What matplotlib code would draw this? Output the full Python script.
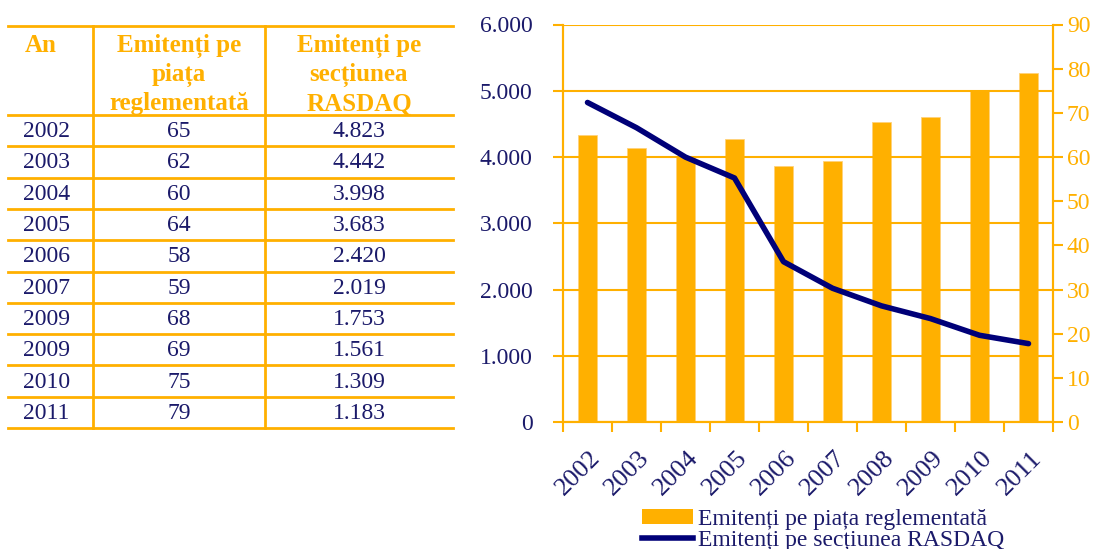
import numpy as np
import matplotlib.pyplot as plt
from matplotlib.lines import Line2D
from matplotlib.patches import Patch
from matplotlib.ticker import FuncFormatter
import matplotlib.transforms as mtransforms

plt.rcParams['font.family'] = ['Liberation Serif', 'DejaVu Serif']

# table data (years exactly as printed in the source table)
ani_tabel = ['2002', '2003', '2004', '2005', '2006', '2007', '2009', '2009', '2010', '2011']
# chart categories
ani_grafic = ['2002', '2003', '2004', '2005', '2006', '2007', '2008', '2009', '2010', '2011']
emitenti_piata = [65, 62, 60, 64, 58, 59, 68, 69, 75, 79]
emitenti_rasdaq = [4823, 4442, 3998, 3683, 2420, 2019, 1753, 1561, 1309, 1183]

antet = ['An', 'Emitenți pe\npiața\nreglementată', 'Emitenți pe\nsecțiunea\nRASDAQ']
legenda = ['Emitenți pe piața reglementată', 'Emitenți pe secțiunea RASDAQ']

ORANGE = '#FFB000'
NAVY = '#000078'
TEXT = '#1b1a6a'

W, H = 1105, 549
fig = plt.figure(figsize=(W / 100, H / 100), dpi=100)


def fx(px):
    return px / W


def fy(py):
    return 1 - py / H


def fmt_ro(v):
    # Romanian thousands separator
    return f"{int(v):,}".replace(',', '.')


# --- table on the left ---
tab_x0, tab_x1 = 8, 453
col_sep = [93, 265]
tab_top, head_bot, row_h = 26, 115, 31.3
n_rows = len(ani_tabel)
tab_bot = head_bot + n_rows * row_h


def hline(y):
    fig.add_artist(Line2D([fx(tab_x0), fx(tab_x1)], [fy(y), fy(y)],
                          color=ORANGE, lw=2))


hline(tab_top)
hline(head_bot)
for i in range(n_rows):
    hline(head_bot + (i + 1) * row_h)
for xs in col_sep:
    fig.add_artist(Line2D([fx(xs), fx(xs)], [fy(tab_top), fy(tab_bot)],
                          color=ORANGE, lw=2))

col_centers = [(col_sep[0] + col_sep[1]) / 2, (col_sep[1] + tab_x1) / 2]
fig.text(fx(25), fy(34), antet[0], color=ORANGE, fontsize=18,
         fontweight='bold', ha='left', va='top')
for c, txt in zip(col_centers, antet[1:]):
    fig.text(fx(c), fy(34), txt, color=ORANGE, fontsize=18, fontweight='bold',
             ha='center', va='top', multialignment='center', linespacing=1.28)

for i in range(n_rows):
    yc = head_bot + (i + 0.5) * row_h + 1
    fig.text(fx(23), fy(yc), ani_tabel[i], color=TEXT, fontsize=17,
             ha='left', va='center')
    fig.text(fx(col_centers[0]), fy(yc), str(emitenti_piata[i]), color=TEXT,
             fontsize=17, ha='center', va='center')
    fig.text(fx(col_centers[1]), fy(yc), fmt_ro(emitenti_rasdaq[i]), color=TEXT,
             fontsize=17, ha='center', va='center')

# --- combo chart on the right ---
px0, px1, py_top, py_bot = 563, 1053, 24.5, 422
ax = fig.add_axes([fx(px0), fy(py_bot), (px1 - px0) / W, (py_bot - py_top) / H])
ax2 = ax.twinx()
ax.set_zorder(ax2.get_zorder() + 1)
ax.patch.set_visible(False)

x = np.arange(len(ani_grafic))
ax2.bar(x, emitenti_piata, width=0.4, color=ORANGE, edgecolor='#FFD27A',
        linewidth=0.6, zorder=3)
ax2.set_ylim(0, 90)
ax2.set_yticks(np.arange(0, 91, 10))
ax2.tick_params(axis='y', colors=ORANGE, labelcolor=ORANGE, labelsize=17,
                length=7, width=1.5, pad=3)

ax.plot(x, emitenti_rasdaq, color=NAVY, lw=4, solid_capstyle='round',
        solid_joinstyle='round')
ax.set_ylim(0, 6000)
ax.set_yticks(np.arange(0, 6001, 1000))
ax.yaxis.set_major_formatter(FuncFormatter(lambda v, p: fmt_ro(v)))
ax.tick_params(axis='y', colors=ORANGE, labelcolor=TEXT, labelsize=17,
               length=7, width=1.5, pad=15)
ax.grid(axis='y', color=ORANGE, lw=1.5)
ax.set_axisbelow(True)

ax.set_xlim(-0.5, len(ani_grafic) - 0.5)
ax.set_xticks(np.arange(-0.5, len(ani_grafic), 1))
ax.set_xticklabels([])
ax.set_xticks(x, minor=True)
ax.set_xticklabels(ani_grafic, minor=True, rotation=45, ha='right', va='top',
                   rotation_mode='anchor', color=TEXT, fontsize=19)
ax.tick_params(axis='x', which='major', colors=ORANGE, length=7, width=1.5)
ax.tick_params(axis='x', which='minor', length=0, pad=18)
shift = mtransforms.ScaledTranslation(2 / 100, 0, fig.dpi_scale_trans)
for lbl in ax.get_xticklabels(minor=True):
    lbl.set_transform(lbl.get_transform() + shift)

for a in (ax, ax2):
    a.spines['top'].set_visible(False)
    for s in ('left', 'right', 'bottom'):
        a.spines[s].set_color(ORANGE)
        a.spines[s].set_linewidth(1.5)

fig.legend(handles=[Patch(facecolor=ORANGE, edgecolor='none'),
                    Line2D([], [], color=NAVY, lw=4)],
           labels=legenda, loc='upper left',
           bbox_to_anchor=(fx(625), fy(492)), frameon=False, fontsize=17,
           labelcolor=TEXT, handlelength=2.2, handleheight=0.6,
           handletextpad=0.2, labelspacing=0.0, borderpad=0.2)

fig.savefig('out.png', dpi=100)
